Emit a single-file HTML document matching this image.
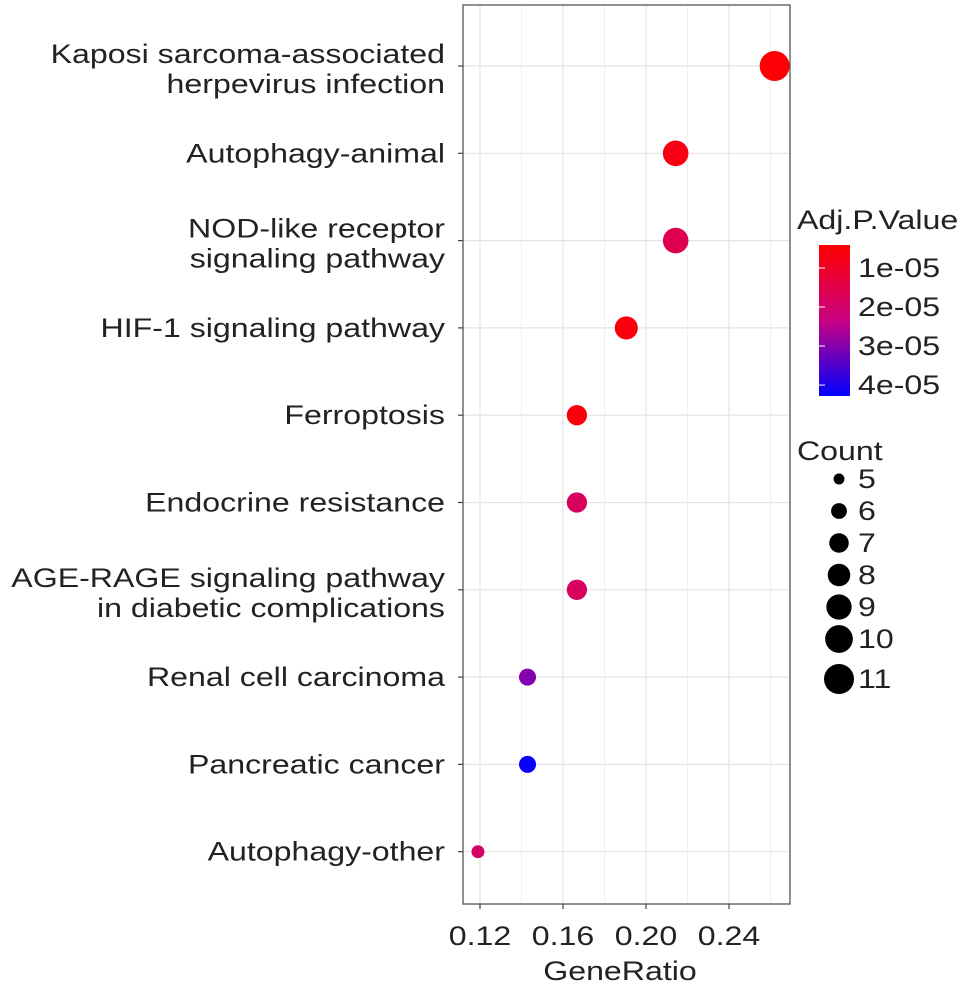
<!DOCTYPE html>
<html><head><meta charset="utf-8"><style>
body{margin:0;background:#fff;}
svg text{font-family:"Liberation Sans",Arial,sans-serif;fill:#222;}
</style></head><body>
<svg id="chart" width="969" height="995" xmlns="http://www.w3.org/2000/svg">
<defs><linearGradient id="cb" x1="0" y1="0" x2="0" y2="1">
<stop offset="0" stop-color="#ff0000"/><stop offset="0.5" stop-color="#c80082"/><stop offset="1" stop-color="#0000ff"/>
</linearGradient></defs>
<g id="grid"></g>
<g id="points"></g>
<g id="axes"></g>
<g id="legend"></g>
</svg>
<script>
const categories = [
 ["Kaposi sarcoma-associated","herpevirus infection"],
 ["Autophagy-animal"],
 ["NOD-like receptor","signaling pathway"],
 ["HIF-1 signaling pathway"],
 ["Ferroptosis"],
 ["Endocrine resistance"],
 ["AGE-RAGE signaling pathway","in diabetic complications"],
 ["Renal cell carcinoma"],
 ["Pancreatic cancer"],
 ["Autophagy-other"]
];
const geneRatio = [0.262,0.2143,0.2143,0.1905,0.1667,0.1667,0.1667,0.1429,0.1429,0.119];
const counts = [11,9,9,8,7,7,7,6,6,5];
const adjP = [0.5e-5,0.7e-5,1.6e-5,0.6e-5,0.6e-5,1.8e-5,1.8e-5,3.0e-5,4.2e-5,1.9e-5];
const xTicks = [0.12,0.16,0.20,0.24];
const xTickLabels = ["0.12","0.16","0.20","0.24"];
const pTicks = [1e-5,2e-5,3e-5,4e-5];
const pTickLabels = ["1e-05","2e-05","3e-05","4e-05"];
const countLegend = [5,6,7,8,9,10,11];

const NS="http://www.w3.org/2000/svg";
const L=463,R=790,T=5,B=904,FS=27,SX=1.19;
const x=v=>646+(v-0.20)*2075;
const y=i=>66+i*87.3;
const rad=c=>Math.sqrt(42+(c-5)*30.5);
const pMin=0.41e-5,pMax=4.28e-5;
function col(p){let t=Math.max(0,Math.min(1,(p-pMin)/(pMax-pMin)));
 const a=[255,0,0],m=[200,0,130],b=[0,0,255];let c;
 if(t<0.5){const u=t/0.5;c=a.map((v,k)=>v+(m[k]-v)*u);}else{const u=(t-0.5)/0.5;c=m.map((v,k)=>v+(b[k]-v)*u);}
 return `rgb(${c.map(Math.round).join(',')})`;}
function mk(tag,attrs,parent,txt){const e=document.createElementNS(NS,tag);for(const k in attrs)e.setAttribute(k,attrs[k]);if(txt!==undefined)e.textContent=txt;parent.appendChild(e);return e;}
function tx(ax,parent,anchor){return mk('text',{x:ax,'text-anchor':anchor,'font-size':FS,transform:`translate(${ax},0) scale(${SX},1) translate(${-ax},0)`},parent);}
const grid=document.getElementById('grid'),pts=document.getElementById('points'),axes=document.getElementById('axes'),leg=document.getElementById('legend');
const bg=mk('rect',{x:L,y:T,width:R-L,height:B-T,fill:'#fff'},grid);

for(let i=0;i<xTicks.length+1;i++){const v=xTicks[0]-0.02+i*0.04;const xx=x(v);if(xx>L&&xx<R){const g=mk('line',{x1:xx,x2:xx,y1:T,y2:B,stroke:'#f0f0f0','stroke-width':1},grid);
 }}
xTicks.forEach(v=>{const g=mk('line',{x1:x(v),x2:x(v),y1:T,y2:B,stroke:'#e4e4e4','stroke-width':1.2},grid);
 });
categories.forEach((c,i)=>{const g=mk('line',{x1:L,x2:R,y1:y(i),y2:y(i),stroke:'#e4e4e4','stroke-width':1.2},grid);
 });
const border=mk('rect',{x:L,y:T,width:R-L,height:B-T,fill:'none',stroke:'#555','stroke-width':1.3},axes);

categories.forEach((c,i)=>{
 const t=mk('line',{x1:L-5,x2:L,y1:y(i),y2:y(i),stroke:'#444','stroke-width':1.2},axes);
 
 const te=tx(445,axes,'end');
 
 c.forEach((line,k)=>{const yy=c.length===1?y(i)+9:y(i)-3+k*30;mk('tspan',{x:445,y:yy},te,line);});
 const p=mk('circle',{cx:x(geneRatio[i]),cy:y(i),r:rad(counts[i]),fill:col(adjP[i])},pts);
 
});
xTicks.forEach((v,i)=>{
 const t=mk('line',{x1:x(v),x2:x(v),y1:B,y2:B+5,stroke:'#444','stroke-width':1.2},axes);
 
 const l=tx(x(v),axes,'middle');l.setAttribute('y',945);l.textContent=xTickLabels[i];
 
});
const xt=tx(620,axes,'middle');xt.setAttribute('y',980);xt.textContent='GeneRatio';

const lt=tx(797,leg,'start');lt.setAttribute('y',229);lt.textContent='Adj.P.Value';

const cb=mk('rect',{x:819,y:245,width:31,height:151,fill:'url(#cb)'},leg);

const py=p=>245+(p-pMin)/(pMax-pMin)*151;
pTicks.forEach((p,i)=>{
 const tk=mk('line',{x1:819,x2:825,y1:py(p),y2:py(p),stroke:'#fff','stroke-width':1},leg);
 
 const tl=tx(858,leg,'start');tl.setAttribute('y',py(p)+9);tl.textContent=pTickLabels[i];
 
});
const ct=tx(797,leg,'start');ct.setAttribute('y',460);ct.textContent='Count';

let cy=479;
countLegend.forEach((c,i)=>{
 const r=Math.sqrt(30+(c-5)*32.5);
 if(i>0)cy+=(i===6?40:32);
 const cc=mk('circle',{cx:839,cy:cy,r:r,fill:'#000'},leg);
 
 const tl=tx(858,leg,'start');tl.setAttribute('y',cy+9);tl.textContent=String(c);
 
});
</script>
</body></html>
